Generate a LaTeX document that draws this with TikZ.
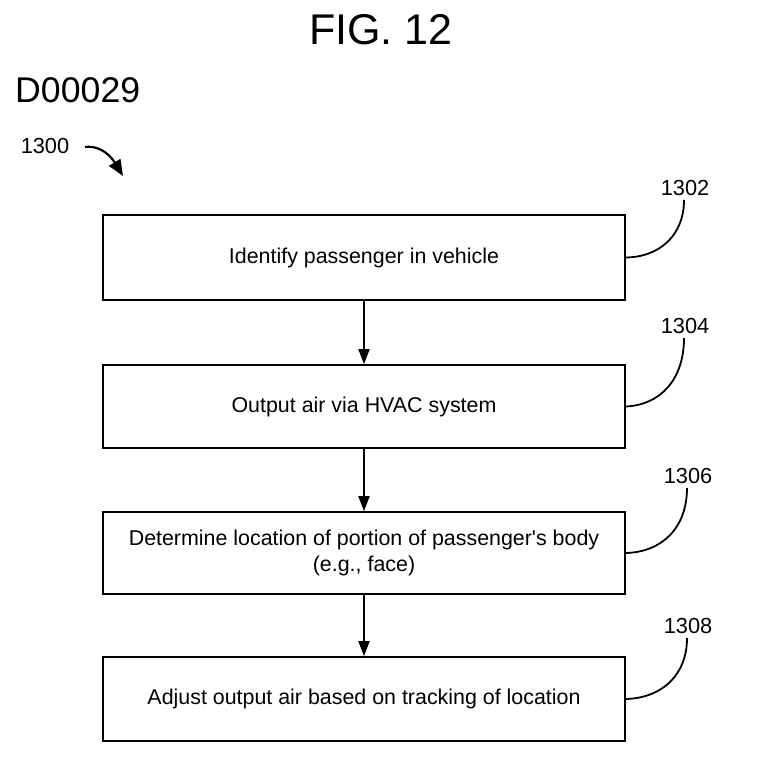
\documentclass[tikz,border=0pt]{standalone}
\usepackage{fontspec}
\setmainfont{Liberation Sans}
\newfontfamily\plainsans{Liberation Sans}
\usetikzlibrary{arrows.meta}
\begin{document}
\begin{tikzpicture}[x=1pt,y=-1pt,
  stepbox/.style={draw,line width=1.6pt,minimum width=522pt,inner sep=0pt,align=center,font=\plainsans\fontsize{21.4}{26}\selectfont},
  flow/.style={line width=1.8pt,-{Triangle[length=15pt,width=11pt]}},
  lead/.style={line width=1.8pt},
  reflabel/.style={font=\fontsize{21.8}{24}\selectfont,inner sep=0pt}]
\useasboundingbox (0,0) rectangle (782,762);
\node (fig) at (381,30) {\fontsize{43}{48}\selectfont FIG. 12};
\node[anchor=west,inner sep=0pt] (doc) at (15,90) {\fontsize{35.7}{40}\selectfont D00029};
\node[reflabel] (r1300) at (45,146) {1300};
\coordinate (a1300) at (123,176);
\draw[line width=2.2pt,-{Triangle[length=16pt,width=13pt]}] (85,147) .. controls (102,145) and (112,158) .. (a1300);

\node[stepbox,minimum height=85pt] (b1) at (364,257.5) {Identify passenger in vehicle};
\node[stepbox,minimum height=83pt] (b2) at (364,406.5) {Output air via HVAC system};
\node[stepbox,minimum height=82pt] (b3) at (364,553) {Determine location of portion of passenger's body\\(e.g., face)};
\node[stepbox,minimum height=84pt] (b4) at (364,699) {Adjust output air based on tracking of location};

\draw[flow] (b1.south) -- (b2.north);
\draw[flow] (b2.south) -- (b3.north);
\draw[flow] (b3.south) -- (b4.north);

\node[reflabel] (l1) at (685,188) {1302};
\node[reflabel] (l2) at (685,326) {1304};
\node[reflabel] (l3) at (688,476) {1306};
\node[reflabel] (l4) at (688,626) {1308};

\draw[lead] (b1.east) .. controls (660,257) and (684,235) .. (684,200);
\draw[lead] (b2.east) .. controls (660,405) and (684,380) .. (684,338);
\draw[lead] (b3.east) .. controls (662,552) and (687,528) .. (687,488);
\draw[lead] (b4.east) .. controls (662,698) and (687,675) .. (687,638);
\end{tikzpicture}
\end{document}
